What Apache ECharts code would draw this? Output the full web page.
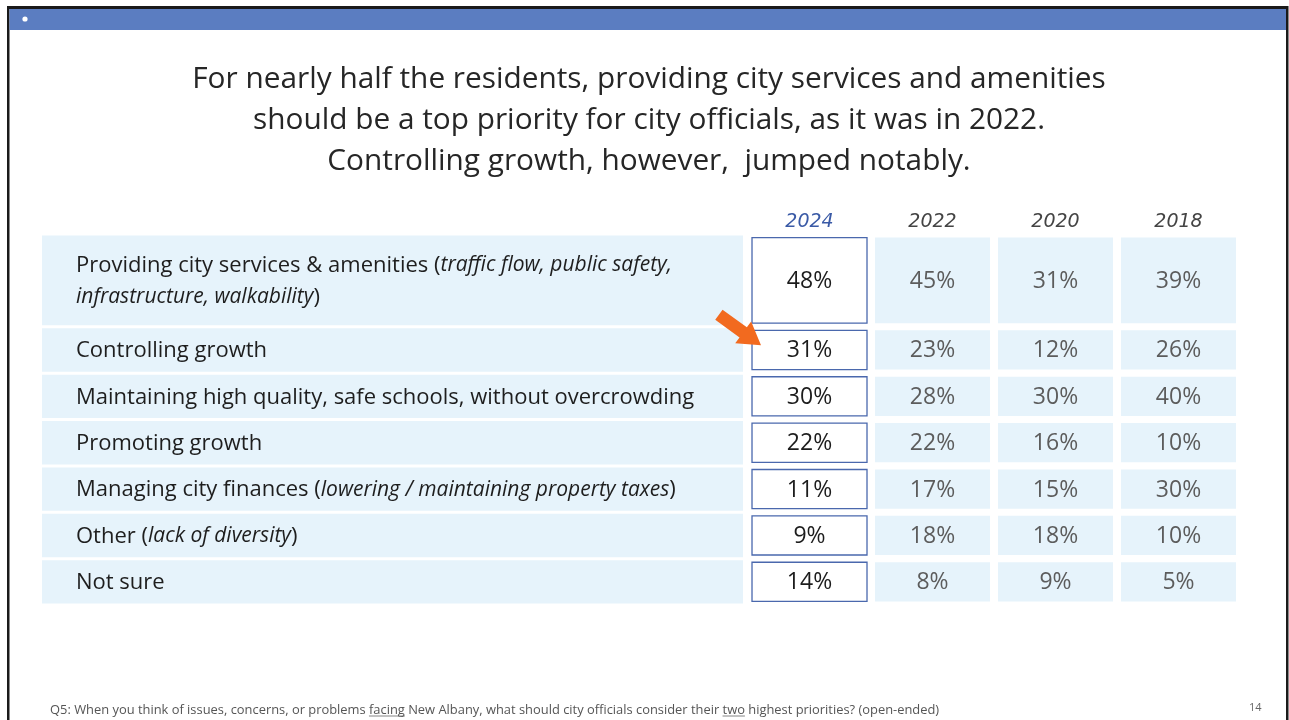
<!DOCTYPE html>
<html><head><meta charset="utf-8">
<script src="https://cdn.jsdelivr.net/npm/echarts@6/dist/echarts.min.js"></script>
<style>html,body{margin:0;padding:0;background:#fff}#c{width:1289px;height:720px}</style>
</head><body><div id="c"></div>
<script>
// ---------- data ----------
const titleLines = [
  'For nearly half the residents, providing city services and amenities',
  'should be a top priority for city officials, as it was in 2022.',
  'Controlling growth, however,  jumped notably.'
];
const years = ['2024', '2022', '2020', '2018'];
const rowLabels = [
  'Providing city services & amenities',
  'Controlling growth',
  'Maintaining high quality, safe schools, without overcrowding',
  'Promoting growth',
  'Managing city finances',
  'Other',
  'Not sure'
];
const rowNotes = [
  'traffic flow, public safety,\ninfrastructure, walkability',
  '', '', '',
  'lowering / maintaining property taxes',
  'lack of diversity',
  ''
];
const v2024 = [48, 31, 30, 22, 11, 9, 14];
const v2022 = [45, 23, 28, 22, 17, 18, 8];
const v2020 = [31, 12, 30, 16, 15, 18, 9];
const v2018 = [39, 26, 40, 10, 30, 10, 5];
const highlightRow = 'Controlling growth';
const footnoteParts = [
  ['Q5: When you think of issues, concerns, or problems ', false],
  ['facing', true],
  [' New Albany, what should city officials consider their ', false],
  ['two', true],
  [' highest priorities? (open-ended)', false]
];
const pageNumber = '14';

// ---------- layout ----------
const FONT = '"Open Sans", "Noto Sans", sans-serif';
const BAND = '#e6f3fb';
const LBL = 5.74;                 // label column width in column units
const rowSpan = [2, 1, 1, 1, 1, 1, 1];
const rowStart = []; let acc = 0;
rowSpan.forEach(s => { rowStart.push(acc); acc += s; });
const TOTAL = acc;

const valueCols = [v2024, v2022, v2020, v2018];
const cellData = [];
rowLabels.forEach((_, r) => valueCols.forEach((col, c) => cellData.push([c, r, col[r]])));

function cellBox(api, x0, x1, y0, y1, ix, iy) {
  const a = api.coord([x0, y0]), b = api.coord([x1, y1]);
  return { x: a[0] + ix, y: a[1] + iy, width: b[0] - a[0] - 2 * ix, height: b[1] - a[1] - 2 * iy };
}
function esc(s) { return s.replace(/[{}|]/g, ''); }
function labelRich(r) {
  let s = '{n|' + esc(rowLabels[r]) + '}';
  if (rowNotes[r]) {
    const parts = rowNotes[r].split('\n');
    s += '{n| (}' + parts.map(p => '{i|' + esc(p) + '}').join('\n') + '{n|)}';
  }
  return s;
}
function arrowPoints(tx, ty) {
  const d = [0.81, 0.59], n = [-0.59, 0.81];
  const L = 52, H = 22, HW = 13.5, SW = 6.2;
  const tail = [tx - d[0] * L, ty - d[1] * L];
  const base = [tx - d[0] * H, ty - d[1] * H];
  const p = (pt, k) => [pt[0] + n[0] * k, pt[1] + n[1] * k];
  return [p(tail, SW), p(base, SW), p(base, HW), [tx, ty], p(base, -HW), p(base, -SW), p(tail, -SW)];
}

const chart = echarts.init(document.getElementById('c'), null, { renderer: 'canvas' });

// measure footnote for underlines
const mctx = document.createElement('canvas').getContext('2d');
const FOOT_FONT = '12.9px ' + FONT;
mctx.font = FOOT_FONT;
const footGraphics = [];
let fx = 50;
footGraphics.push({ type: 'text', x: 50, y: 710, style: { text: footnoteParts.map(p => p[0]).join(''), font: FOOT_FONT, fill: '#555', verticalAlign: 'middle' } });
footnoteParts.forEach(p => {
  const w = mctx.measureText(p[0]).width;
  if (p[1]) footGraphics.push({ type: 'line', shape: { x1: fx, y1: 716, x2: fx + w, y2: 716 }, style: { stroke: '#666', lineWidth: 0.8 } });
  fx += w;
});

chart.setOption({
  animation: false,
  backgroundColor: '#fff',
  title: {
    text: titleLines.join('\n'), left: 649, top: 59, padding: 0, textAlign: 'center',
    textStyle: { fontFamily: FONT, fontSize: 29.8, fontWeight: 400, lineHeight: 41, color: '#262626' }
  },
  grid: { left: 42, top: 234, width: 1198, height: 371 },
  xAxis: { type: 'value', min: 0, max: LBL + years.length, show: false },
  yAxis: { type: 'value', min: 0, max: TOTAL, inverse: true, show: false },
  graphic: [
    { type: 'rect', shape: { x: 7, y: 6, width: 1281, height: 3 }, style: { fill: '#1a1a1a' } },
    { type: 'rect', shape: { x: 7, y: 6, width: 2.5, height: 714 }, style: { fill: '#1a1a1a' } },
    { type: 'rect', shape: { x: 1286, y: 6, width: 2.5, height: 714 }, style: { fill: '#1a1a1a' } },
    { type: 'rect', shape: { x: 9.5, y: 9, width: 1276.5, height: 21 }, style: { fill: '#5b7dc1' } },
    { type: 'circle', shape: { cx: 25, cy: 19, r: 2.6 }, style: { fill: '#fff' } },
    { type: 'text', x: 1249, y: 708, style: { text: pageNumber, font: '11px ' + FONT, fill: '#666', verticalAlign: 'middle' } }
  ].concat(footGraphics),
  series: [
    {
      type: 'custom', name: 'labels', clip: false,
      data: rowLabels.map((_, r) => [r]),
      renderItem(params, api) {
        const r = api.value(0);
        const box = cellBox(api, 0, LBL, rowStart[r], rowStart[r] + rowSpan[r], 0, 1.5);
        box.width -= 5;
        return {
          type: 'group', children: [
            { type: 'rect', shape: box, style: { fill: BAND } },
            { type: 'text', style: {
              text: labelRich(r), x: box.x + 34, y: box.y + box.height / 2 + 1,
              align: 'left', verticalAlign: 'middle',
              rich: {
                n: { fontFamily: FONT, fontSize: 22, fill: '#1e1e1e', lineHeight: 32 },
                i: { fontFamily: FONT, fontSize: 21, fontStyle: 'italic', fill: '#1e1e1e', lineHeight: 32 }
              }
            } }
          ]
        };
      }
    },
    {
      type: 'custom', name: 'headers', clip: false,
      data: years.map((_, c) => [c]),
      renderItem(params, api) {
        const c = api.value(0);
        const p = api.coord([LBL + c + 0.5, -0.26]);
        return { type: 'text', style: {
          text: years[c], x: p[0], y: p[1], align: 'center', verticalAlign: 'middle',
          fontFamily: '"DejaVu Sans", sans-serif', fontStyle: 'italic', fontWeight: 200, fontSize: 19,
          fill: c === 0 ? '#3a5aa6' : '#444'
        } };
      }
    },
    {
      type: 'custom', name: 'values', clip: false,
      data: cellData,
      renderItem(params, api) {
        const c = api.value(0), r = api.value(1), v = api.value(2);
        const box = cellBox(api, LBL + c, LBL + c + 1, rowStart[r], rowStart[r] + rowSpan[r], 4, 3.6);
        const first = c === 0;
        const children = [
          { type: 'rect', shape: box, style: first ? { fill: '#fff', stroke: '#4a68ad', lineWidth: 1.3 } : { fill: BAND } },
          { type: 'text', style: {
            text: v + '%', x: box.x + box.width / 2, y: box.y + box.height / 2 + 1,
            align: 'center', verticalAlign: 'middle',
            fontFamily: FONT, fontSize: 23, fill: first ? '#1c1c1c' : '#5c5c5c'
          } }
        ];
        if (first && rowLabels[r] === highlightRow) {
          children.push({ type: 'polygon', shape: { points: arrowPoints(box.x + 9, box.y + 15) }, style: { fill: '#f26a1f' } });
        }
        return { type: 'group', children };
      }
    }
  ]
});
</script></body></html>
